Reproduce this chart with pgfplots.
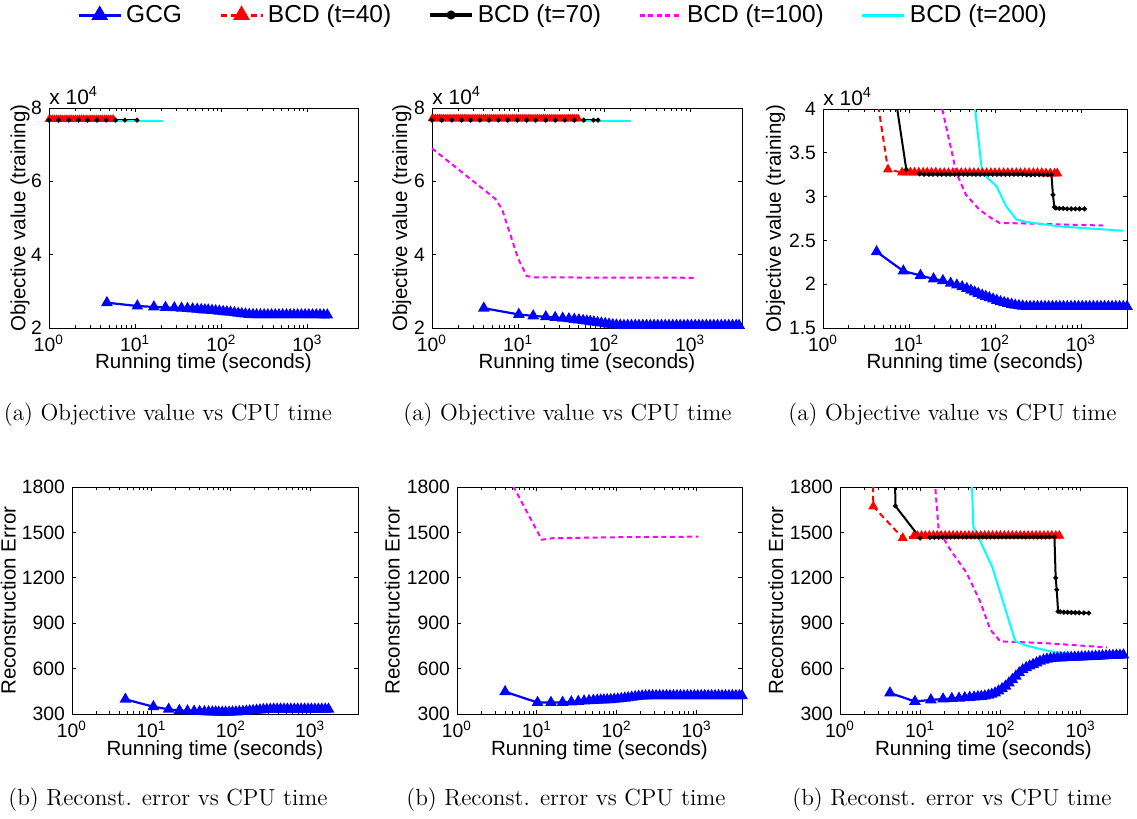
\documentclass[border=0pt]{standalone}
\usepackage{fontspec}
\setsansfont{Liberation Sans}
\usepackage{pgfplots}
\pgfplotsset{compat=1.18}

\newcommand{\tk}[1]{10\textsuperscript{#1}}
\pgfplotsset{
  chartax/.style={
    scale only axis, xmin=1, xmax=4000,
    xtick={1,10,100,1000}, xticklabels={\tk{0},\tk{1},\tk{2},\tk{3}},
    axis line style={line width=0.5bp}, tick style={line width=0.4bp, black},
    major tick length=2.2bp, minor tick length=1.3bp, tick align=inside,
    every tick label/.append style={font=\sffamily\fontsize{9.7}{11}\selectfont},
    label style={font=\sffamily\fontsize{10.3}{12}\selectfont},
    /pgf/number format/assume math mode=true,
    /pgf/number format/1000 sep={},
    xlabel={Running time (seconds)},
  },
  objtop/.style={ymin=2, ymax=8, ytick={2,4,6,8}, ylabel={Objective value (training)},
    xlabel style={at={(axis description cs:0.5,-0.16)}, anchor=center}},
  recon/.style={ymin=300, ymax=1800, ytick={300,600,900,1200,1500,1800}, ylabel={Reconstruction Error},
    xlabel style={at={(axis description cs:0.5,-0.16)}, anchor=center}},
  gcg/.style={color={rgb,1:red,0;green,0;blue,1}, line width=1.1bp, mark=triangle*, mark size=2.3bp, mark options={solid}},
  bcdA/.style={color={rgb,1:red,1;green,0;blue,0}, line width=1bp, dash pattern=on 3bp off 2bp, mark=triangle*, mark size=1.9bp, mark options={solid}},
  bcdB/.style={black, line width=1bp, mark=*, mark size=0.65bp},
  bcdC/.style={color={rgb,1:red,1;green,0;blue,1}, line width=1bp, dash pattern=on 2.5bp off 1.8bp},
  bcdD/.style={color={rgb,1:red,0;green,1;blue,1}, line width=1bp},
}
\newcommand{\sci}{\sffamily\fontsize{10.5}{12}\selectfont x 10\textsuperscript{4}}
\newcommand{\capfont}{\fontsize{11.7}{14}\selectfont}

\begin{document}
\begin{tikzpicture}
\path[use as bounding box] (0,0) rectangle (568.5bp,-409.5bp);

% legend
\begin{axis}[at={(282bp,-7.5bp)}, anchor=center, hide axis, scale only axis,
  width=10bp, height=5bp, xmin=0, xmax=1, ymin=0, ymax=1,
  legend columns=5,
  legend style={at={(0.5,0.5)}, anchor=center, draw=none, fill=none,
    font=\sffamily\fontsize{12.3}{14}\selectfont,
    /tikz/every even column/.append style={column sep=16.5bp}},
  legend image code/.code={\draw[mark repeat=2,mark phase=2,#1] plot coordinates {(0bp,0bp) (10.5bp,0bp) (21bp,0bp)};}]
\addlegendimage{gcg, line width=1.5bp, mark size=3.3bp}\addlegendentry{GCG}
\addlegendimage{bcdA, line width=1.5bp, mark size=3.3bp}\addlegendentry{BCD (t=40)}
\addlegendimage{bcdB, line width=1.8bp, mark size=1.3bp}\addlegendentry{BCD (t=70)}
\addlegendimage{bcdC, line width=1.5bp}\addlegendentry{BCD (t=100)}
\addlegendimage{bcdD, line width=1.5bp}\addlegendentry{BCD (t=200)}
\end{axis}

% (1) top left
\begin{axis}[xmode=log, chartax, objtop, at={(24.5bp,-164bp)}, anchor=south west,
  width=154.5bp, height=110bp, xmax=3860,
  ylabel style={at={(axis description cs:-0.094,0.5)}, anchor=center}]
\addplot[gcg] coordinates {(4.7,2.69) (10.6,2.60) (16.5,2.575) (22.5,2.56) (28.5,2.55) (34.5,2.54) (40.5,2.53) (46.5,2.52) (52.5,2.51) (58.5,2.50) (64.5,2.495) (70.5,2.49) (78,2.48) (86,2.47) (95,2.46) (105,2.45) (116,2.44) (128,2.43) (142,2.415) (157,2.40) (173,2.39) (191,2.38) (211,2.37) (233,2.365) (257,2.36) (284,2.36) (314,2.36) (347,2.36) (383,2.36) (423,2.36) (467,2.36) (516,2.36) (570,2.36) (630,2.36) (696,2.36) (769,2.36) (850,2.36) (939,2.36) (1037,2.36) (1146,2.36) (1266,2.36) (1399,2.36) (1545,2.355) (1700,2.355)};
\addplot[bcdA, mark size=1.5bp] coordinates {(1.0,7.69) (1.05,7.69) (1.1,7.69) (1.16,7.69) (1.22,7.69) (1.28,7.69) (1.35,7.69) (1.42,7.69) (1.5,7.69) (1.58,7.69) (1.66,7.69) (1.75,7.69) (1.84,7.69) (1.94,7.69) (2.04,7.69) (2.15,7.69) (2.26,7.69) (2.38,7.69) (2.5,7.69) (2.63,7.69) (2.77,7.69) (2.92,7.69) (3.07,7.69) (3.23,7.69) (3.4,7.69) (3.58,7.69) (3.77,7.69) (3.97,7.69) (4.18,7.69) (4.4,7.69) (4.63,7.69) (4.87,7.69) (5.13,7.69) (5.4,7.69) (5.6,7.69)};
\addplot[bcdB] coordinates {(1,7.67) (1.3,7.67) (1.7,7.67) (2.2,7.67) (2.8,7.67) (3.6,7.67) (4.6,7.67) (5.9,7.67) (7.6,7.67) (10.5,7.67)};
\addplot[bcdD] coordinates {(1,7.64) (21,7.64)};
\end{axis}

% (2) top middle
\begin{axis}[xmode=log, chartax, objtop, at={(216bp,-164bp)}, anchor=south west,
  width=155bp, height=110bp, xmax=4000,
  ylabel style={at={(axis description cs:-0.097,0.5)}, anchor=center}]
\addplot[gcg] coordinates {(4.0,2.54) (10.2,2.37) (15,2.33) (21,2.305) (27,2.285) (33,2.265) (39,2.25) (45,2.235) (51,2.22) (57,2.205) (63,2.19) (69,2.18) (76,2.165) (84,2.15) (93,2.135) (103,2.12) (114,2.105) (126,2.09) (139,2.08) (154,2.075) (170,2.07) (188,2.07) (208,2.07) (230,2.07) (254,2.07) (281,2.07) (311,2.07) (344,2.07) (380,2.07) (420,2.07) (464,2.07) (513,2.07) (567,2.07) (627,2.07) (693,2.07) (766,2.07) (846,2.07) (935,2.07) (1033,2.07) (1142,2.07) (1262,2.07) (1394,2.07) (1541,2.07) (1703,2.07) (1882,2.07) (2080,2.07) (2298,2.07) (2540,2.07) (2807,2.07) (3102,2.07) (3428,2.07) (3700,2.07)};
\addplot[bcdA, mark size=1.5bp] coordinates {(1.0,7.71) (1.05,7.71) (1.1,7.71) (1.16,7.71) (1.22,7.71) (1.28,7.71) (1.35,7.71) (1.42,7.71) (1.5,7.71) (1.58,7.71) (1.66,7.71) (1.75,7.71) (1.84,7.71) (1.94,7.71) (2.04,7.71) (2.15,7.71) (2.26,7.71) (2.38,7.71) (2.5,7.71) (2.63,7.71) (2.77,7.71) (2.92,7.71) (3.07,7.71) (3.23,7.71) (3.4,7.71) (3.58,7.71) (3.77,7.71) (3.97,7.71) (4.18,7.71) (4.4,7.71) (4.63,7.71) (4.87,7.71) (5.13,7.71) (5.4,7.71) (5.7,7.71) (6.0,7.71) (6.3,7.71) (6.6,7.71) (7.0,7.71) (7.4,7.71) (7.8,7.71) (8.2,7.71) (8.6,7.71) (9.1,7.71) (9.6,7.71) (10.1,7.71) (10.6,7.71) (11.2,7.71) (11.8,7.71) (12.4,7.71) (13.1,7.71) (13.8,7.71) (14.5,7.71) (15.3,7.71) (16.1,7.71) (16.9,7.71) (17.8,7.71) (18.8,7.71) (19.8,7.71) (20.8,7.71) (21.9,7.71) (23.1,7.71) (24.3,7.71) (25.6,7.71) (27,7.71) (28.4,7.71) (29.9,7.71) (31.5,7.71) (33.2,7.71) (35,7.71) (36.8,7.71) (38.8,7.71) (40.9,7.71) (43,7.71) (45.3,7.71) (47.6,7.71) (50,7.71)};
\addplot[bcdB] coordinates {(1,7.67) (1.3,7.67) (1.7,7.67) (2.2,7.67) (2.8,7.67) (3.6,7.67) (4.6,7.67) (5.9,7.67) (7.6,7.67) (9.8,7.67) (12.6,7.67) (16,7.67) (21,7.67) (27,7.67) (35,7.67) (45,7.67) (58,7.67) (75,7.67) (85,7.67)};
\addplot[bcdC] coordinates {(1,6.90) (5.4,5.53) (6.5,5.25) (8,4.6) (10,3.9) (12.6,3.42) (15,3.38) (1100,3.37)};
\addplot[bcdD] coordinates {(1,7.64) (204,7.64)};
\end{axis}

% (3) top right
\begin{axis}[xmode=log, chartax, at={(411.5bp,-164bp)}, anchor=south west,
  width=152bp, height=109.5bp, xmax=3430,
  ymin=1.5, ymax=4, ytick={1.5,2,2.5,3,3.5,4}, ylabel={Objective value (training)},
  xlabel style={at={(axis description cs:0.5,-0.16)}, anchor=center},
  ylabel style={at={(axis description cs:-0.156,0.5)}, anchor=center}]
\addplot[gcg] coordinates {(4.2,2.37) (8.6,2.15) (13.6,2.10) (19.3,2.06) (24.8,2.04) (30.5,2.01) (36,1.99) (41.5,1.97) (47,1.95) (52.5,1.93) (58,1.91) (64,1.895) (71,1.875) (78,1.86) (86,1.845) (95,1.83) (105,1.815) (116,1.80) (128,1.79) (141,1.78) (156,1.77) (172,1.76) (190,1.755) (210,1.75) (232,1.745) (256,1.745) (283,1.745) (312,1.745) (345,1.745) (381,1.745) (421,1.745) (465,1.745) (514,1.745) (568,1.745) (627,1.745) (693,1.745) (766,1.745) (846,1.745) (935,1.745) (1033,1.745) (1142,1.745) (1262,1.745) (1394,1.745) (1541,1.745) (1703,1.745) (1882,1.745) (2080,1.745) (2298,1.745) (2540,1.745) (2807,1.745) (3102,1.745) (3428,1.745) (4000,1.745)};
\addplot[bcdA] coordinates {(2.6,5.5) (5.7,3.31) (8.3,3.275) (9.3,3.275) (10.4,3.275) (11.6,3.275) (13,3.275) (14.6,3.275) (16.3,3.275) (18.3,3.275) (20.5,3.275) (23,3.27) (25.7,3.27) (28.8,3.27) (32.3,3.27) (36.2,3.27) (40.5,3.27) (45.4,3.27) (50.8,3.27) (56.9,3.27) (63.8,3.27) (71.4,3.27) (80,3.27) (89.6,3.27) (100,3.27) (112,3.27) (126,3.27) (141,3.27) (158,3.27) (177,3.27) (198,3.27) (222,3.27) (249,3.27) (279,3.27) (312,3.27) (350,3.27) (392,3.265) (439,3.265) (492,3.265) (530,3.265)};
\addplot[bcdB] coordinates {(4.9,5.13) (9.3,3.31) (13.3,3.26) (15,3.255) (17,3.255) (19,3.255) (21.5,3.255) (24,3.255) (27,3.255) (30,3.255) (34,3.255) (38,3.255) (43,3.255) (48,3.255) (54,3.255) (60,3.255) (67,3.255) (75,3.255) (84,3.255) (94,3.255) (105,3.255) (118,3.255) (132,3.255) (148,3.255) (166,3.255) (186,3.255) (208,3.255) (233,3.25) (261,3.25) (292,3.25) (327,3.25) (366,3.25) (410,3.25) (453,3.25) (472,3.02) (490,2.88) (510,2.87) (560,2.865) (620,2.865) (690,2.86) (770,2.86) (860,2.86) (960,2.86) (1100,2.86)};
\addplot[bcdC] coordinates {(20,4.38) (35.6,3.27) (46,3.02) (66,2.85) (95,2.74) (113,2.70) (300,2.69) (1800,2.67)};
\addplot[bcdD] coordinates {(55,4.25) (71,3.27) (104,3.12) (135,2.89) (177,2.74) (232,2.71) (565,2.66) (3100,2.61)};
\end{axis}

% (4) bottom left
\begin{axis}[xmode=log, chartax, recon, at={(36bp,-357bp)}, anchor=south west,
  width=143bp, height=113.5bp, xmax=4000,
  ylabel style={at={(axis description cs:-0.223,0.5)}, anchor=center}]
\addplot[gcg] coordinates {(4.7,397) (10.6,348) (16.5,331) (22.5,323) (28.5,320) (34.5,318) (40.5,316) (46.5,315) (52.5,314) (58.5,313) (64.5,313) (70.5,312) (78,312) (86,312) (95,312) (105,313) (116,314) (128,315) (142,317) (157,319) (173,321) (191,323) (211,325) (233,327) (257,329) (284,330) (314,331) (347,332) (383,332) (423,332) (467,332) (516,332) (570,332) (630,332) (696,332) (769,332) (850,332) (939,332) (1037,332) (1146,332) (1266,332) (1399,332) (1545,332) (1700,332)};
\end{axis}

% (5) bottom middle
\begin{axis}[xmode=log, chartax, recon, at={(228.5bp,-357bp)}, anchor=south west,
  width=142.5bp, height=113.5bp, xmax=3700,
  ylabel style={at={(axis description cs:-0.227,0.5)}, anchor=center}]
\addplot[gcg] coordinates {(4.0,447) (10.2,376) (15,376) (21,377) (27,380) (33,383) (39,386) (45,388) (51,390) (57,391) (63,392) (69,393) (76,394) (84,395) (93,397) (103,399) (114,402) (126,405) (139,408) (154,411) (170,414) (188,417) (208,419) (230,420) (254,421) (281,421) (311,421) (344,421) (380,421) (420,421) (464,421) (513,421) (567,421) (627,421) (693,421) (766,421) (846,421) (935,421) (1033,421) (1142,421) (1262,421) (1394,421) (1541,421) (1703,421) (1882,421) (2080,421) (2298,421) (2540,421) (2807,421) (3102,421) (3428,421) (3700,421)};
\addplot[bcdC] coordinates {(4,1907) (11.5,1452) (16,1462) (100,1468) (1050,1472)};
\end{axis}

% (6) bottom right
\begin{axis}[xmode=log, chartax, recon, at={(420bp,-357bp)}, anchor=south west,
  width=143.5bp, height=113.5bp, xmax=3800,
  ylabel style={at={(axis description cs:-0.224,0.5)}, anchor=center}]
\addplot[gcg] coordinates {(4.2,439) (8.6,383) (13.6,393) (19.3,399) (24.8,402) (30.5,404) (36,407) (41.5,410) (47,412) (52.5,414) (58,416) (64,419) (71,424) (78,430) (86,439) (95,452) (105,467) (116,484) (128,505) (141,527) (156,550) (172,572) (190,592) (210,606) (232,617) (256,627) (283,638) (312,648) (345,656) (381,662) (421,666) (465,668) (514,670) (568,671) (627,672) (693,673) (766,674) (846,675) (935,676) (1033,677) (1142,678) (1262,679) (1394,680) (1541,681) (1703,682) (1882,684) (2080,685) (2298,686) (2540,687) (2807,688) (3102,689) (3428,690) (4000,690)};
\addplot[bcdA] coordinates {(2.55,2600) (2.6,1672) (6.07,1463) (8.3,1474) (9.3,1476) (10.4,1477) (11.6,1477) (13,1478) (14.6,1478) (16.3,1478) (18.3,1478) (20.5,1478) (23,1478) (25.7,1478) (28.8,1478) (32.3,1478) (36.2,1478) (40.5,1478) (45.4,1478) (50.8,1478) (56.9,1478) (63.8,1478) (71.4,1478) (80,1478) (89.6,1478) (100,1478) (112,1478) (126,1478) (141,1478) (158,1478) (177,1478) (198,1478) (222,1478) (249,1478) (279,1478) (312,1478) (350,1478) (392,1478) (439,1478) (492,1478) (545,1478)};
\addplot[bcdB] coordinates {(4.8,2300) (4.9,1675) (10,1463) (13.3,1467) (15,1468) (17,1468) (19,1469) (21.5,1469) (24,1469) (27,1470) (30,1470) (34,1470) (38,1470) (43,1470) (48,1470) (54,1470) (60,1470) (67,1470) (75,1470) (84,1470) (94,1470) (105,1470) (118,1470) (132,1470) (148,1470) (166,1470) (186,1470) (208,1470) (233,1470) (261,1470) (292,1470) (327,1470) (366,1470) (410,1470) (473,1470) (490,1199) (505,1121) (525,978) (560,975) (620,973) (690,972) (770,971) (860,970) (960,969) (1100,968) (1270,967)};
\addplot[bcdC] coordinates {(14.9,1900) (17,1518) (23.7,1386) (38,1232) (56,1044) (75,857) (100,780) (350,769) (2150,740)};
\addplot[bcdD] coordinates {(43.5,1950) (46,1540) (79,1275) (154,780) (215,751) (420,714) (1470,681) (3500,670)};
\end{axis}

% exponent labels
\node[anchor=base west, inner sep=0pt] at (24.5bp,-52bp) {\sci};
\node[anchor=base west, inner sep=0pt] at (216bp,-52bp) {\sci};
\node[anchor=base west, inner sep=0pt] at (411.5bp,-52.5bp) {\sci};

% captions
\node[font=\capfont] at (84bp,-207.5bp) {(a) Objective value vs CPU time};
\node[font=\capfont] at (283.75bp,-207.5bp) {(a) Objective value vs CPU time};
\node[font=\capfont] at (476.25bp,-207.5bp) {(a) Objective value vs CPU time};
\node[font=\capfont] at (84bp,-400bp) {(b) Reconst. error vs CPU time};
\node[font=\capfont] at (283bp,-400bp) {(b) Reconst. error vs CPU time};
\node[font=\capfont] at (476bp,-400bp) {(b) Reconst. error vs CPU time};
\end{tikzpicture}
\end{document}
